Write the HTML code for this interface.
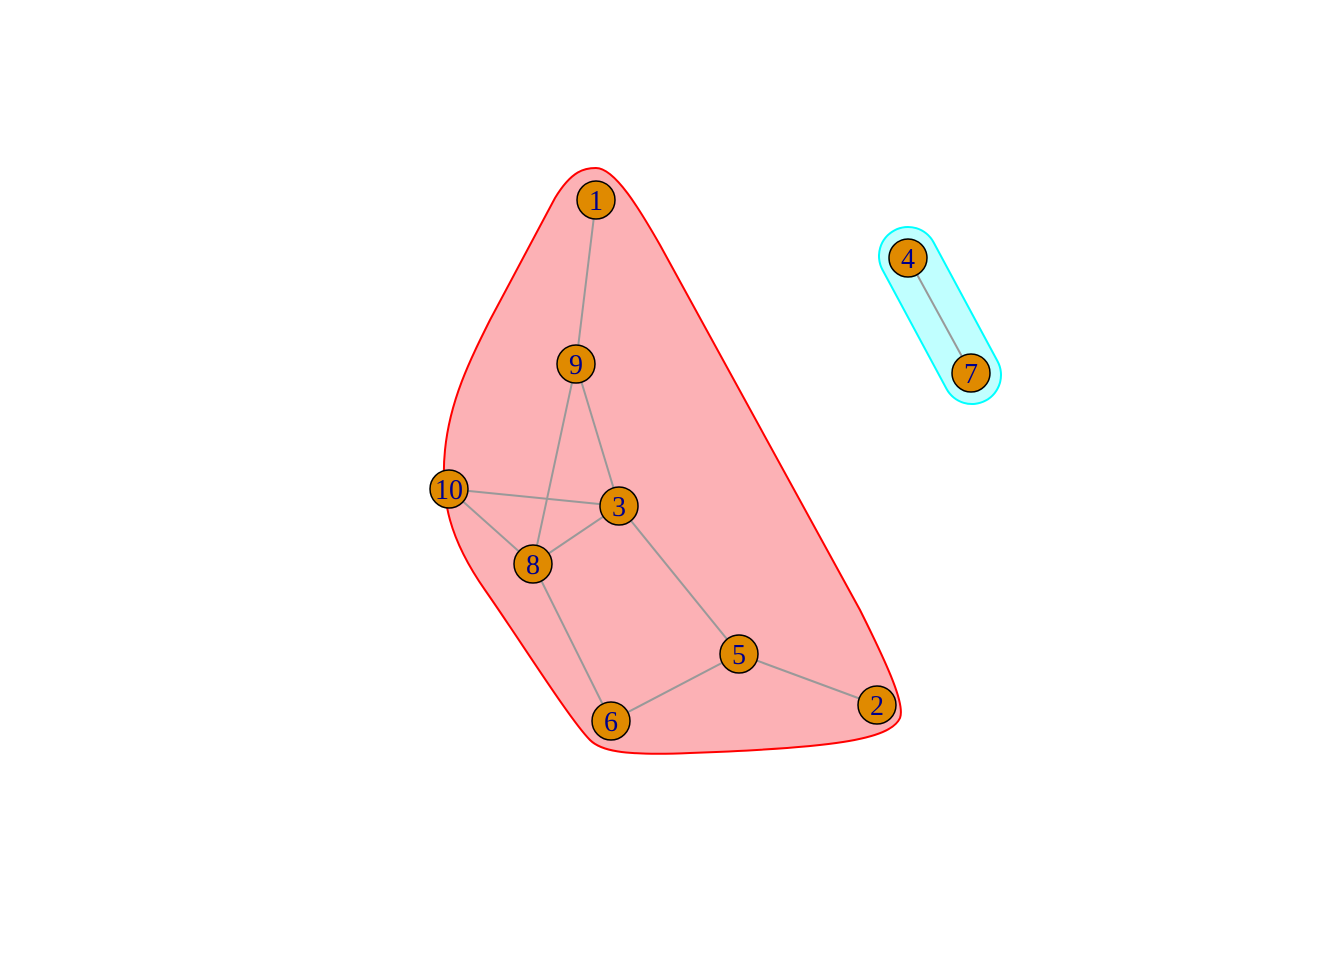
<!DOCTYPE html>
<html>
<head>
<meta charset="utf-8">
<style>
  html, body { margin: 0; padding: 0; background: #ffffff; }
  svg { display: block; }
</style>
</head>
<body>
<svg id="chart" width="1344" height="960" viewBox="0 0 1344 960" xmlns="http://www.w3.org/2000/svg">
  <rect x="0" y="0" width="1344" height="960" fill="#ffffff"/>
  <path
        d="M 596 168 C 615 168, 640 210, 660 245 L 860 610 C 890 670, 905 705, 900 718 C 890 740, 830 748, 690 753 C 620 756, 600 750, 590 740 C 570 720, 520 640, 485 590 C 450 540, 440 500, 445 450 C 450 400, 470 360, 490 320 L 555 198 C 572 170, 585 168, 596 168 Z"
        fill="#fcb1b5" stroke="#ff0000" stroke-width="2"/>
  <line x1="908" y1="256" x2="972" y2="375" stroke="#00ffff" stroke-width="60" stroke-linecap="round"/>
  <line x1="908" y1="256" x2="972" y2="375" stroke="#c0ffff" stroke-width="56" stroke-linecap="round"/>
  <g id="edges"></g>
  <g id="nodes"></g>
</svg>
<script>
const nodeIds = ["1","2","3","4","5","6","7","8","9","10"];
const nodeX = [596, 877, 619, 908, 739, 611, 971, 533, 576, 449];
const nodeY = [200, 705, 506, 258, 654, 721, 373, 564, 364, 489];
const edgeFrom = ["1","9","9","10","10","8","3","8","6","5","4"];
const edgeTo   = ["9","3","8","3","8","3","5","6","5","2","7"];

const NS = "http://www.w3.org/2000/svg";
const eg = document.getElementById("edges");
const ng = document.getElementById("nodes");
function pos(id){ const i = nodeIds.indexOf(id); return [nodeX[i], nodeY[i]]; }

for (let k = 0; k < edgeFrom.length; k++) {
  const a = pos(edgeFrom[k]), b = pos(edgeTo[k]);
  const l = document.createElementNS(NS, "line");
  l.setAttribute("x1", a[0]); l.setAttribute("y1", a[1]);
  l.setAttribute("x2", b[0]); l.setAttribute("y2", b[1]);
  l.setAttribute("stroke", "#999999");
  l.setAttribute("stroke-width", "2");
  
  
  eg.appendChild(l);
}
for (let i = 0; i < nodeIds.length; i++) {
  const g = document.createElementNS(NS, "g");
  
  
  const c = document.createElementNS(NS, "circle");
  c.setAttribute("cx", nodeX[i]); c.setAttribute("cy", nodeY[i]);
  c.setAttribute("r", "19");
  c.setAttribute("fill", "#e08a00");
  c.setAttribute("stroke", "#000000");
  c.setAttribute("stroke-width", "1.5");
  
  
  const t = document.createElementNS(NS, "text");
  t.setAttribute("x", nodeX[i]); t.setAttribute("y", nodeY[i] + 10);
  t.setAttribute("text-anchor", "middle");
  t.setAttribute("font-family", "Liberation Serif, serif");
  t.setAttribute("font-size", "28");
  t.setAttribute("fill", "#00008b");
  t.textContent = nodeIds[i];
  
  
  g.appendChild(c); g.appendChild(t);
  ng.appendChild(g);
}
</script>
</body>
</html>
